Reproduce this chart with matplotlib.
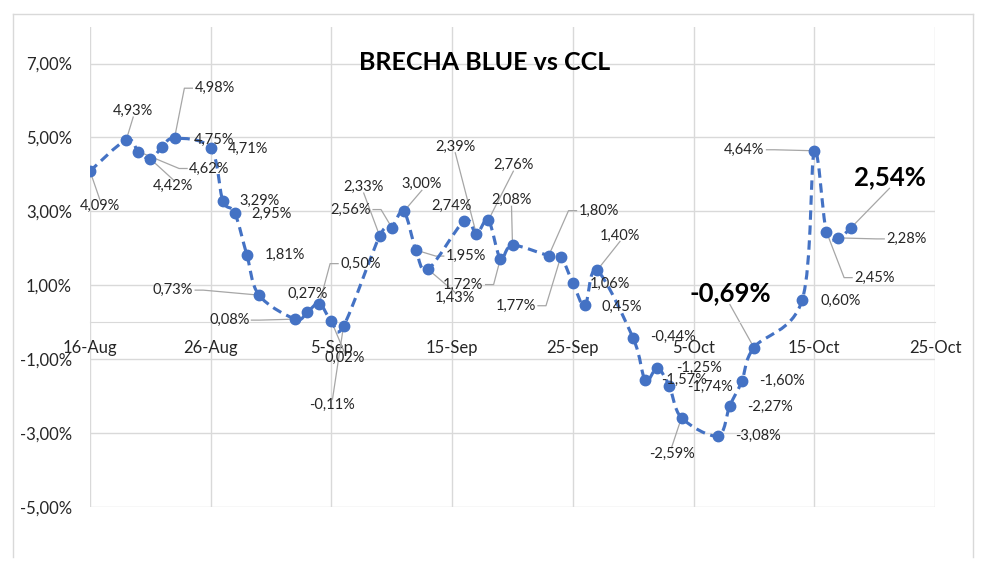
import numpy as np
import matplotlib
matplotlib.use('Agg')
import matplotlib.pyplot as plt
import matplotlib.dates as mdates
from matplotlib.path import Path
from matplotlib.patches import PathPatch
from matplotlib.lines import Line2D
from datetime import datetime

plt.rcParams['font.family'] = ['Lato', 'DejaVu Sans']

# datos: brecha blue vs CCL (%)
dates = ['2019-08-16', '2019-08-19', '2019-08-20', '2019-08-21', '2019-08-22', '2019-08-23',
         '2019-08-26', '2019-08-27', '2019-08-28', '2019-08-29', '2019-08-30',
         '2019-09-02', '2019-09-03', '2019-09-04', '2019-09-05', '2019-09-06',
         '2019-09-09', '2019-09-10', '2019-09-11', '2019-09-12', '2019-09-13',
         '2019-09-16', '2019-09-17', '2019-09-18', '2019-09-19', '2019-09-20',
         '2019-09-23', '2019-09-24', '2019-09-25', '2019-09-26', '2019-09-27',
         '2019-09-30', '2019-10-01', '2019-10-02', '2019-10-03', '2019-10-04',
         '2019-10-07', '2019-10-08', '2019-10-09', '2019-10-10',
         '2019-10-14', '2019-10-15', '2019-10-16', '2019-10-17', '2019-10-18']
values = [4.09, 4.93, 4.62, 4.42, 4.75, 4.98,
          4.71, 3.29, 2.95, 1.81, 0.73,
          0.08, 0.27, 0.50, 0.02, -0.11,
          2.33, 2.56, 3.00, 1.95, 1.43,
          2.74, 2.39, 2.76, 1.72, 2.08,
          1.80, 1.77, 1.06, 0.45, 1.40,
          -0.44, -1.57, -1.25, -1.74, -2.59,
          -3.08, -2.27, -1.60, -0.69,
          0.60, 4.64, 2.45, 2.28, 2.54]

xtick_dates = ['2019-08-16', '2019-08-26', '2019-09-05', '2019-09-15',
               '2019-09-25', '2019-10-05', '2019-10-15', '2019-10-25']
xtick_labels = ['16-Aug', '26-Aug', '5-Sep', '15-Sep', '25-Sep', '5-Oct', '15-Oct', '25-Oct']
yticks = [-5, -3, -1, 1, 3, 5, 7]

# posicion de etiquetas (px respecto al punto, y hacia abajo) y lado del conector
label_off = [(10, 35), (7, -29), (71, 17), (23, 27), (52, -7), (40, -50),
             (37, 1), (37, 0), (37, 1), (38, 0), (-86, -5),
             (-66, 1), (0, -18), (41, -40), (13, 37), (-11, 79),
             (-16, -49), (-41, -18), (18, -27), (50, 6), (27, 29),
             (-13, -15), (-21, -87), (25, -55), (-37, 26), (-1, -45),
             (50, -45), (-45, 49), (37, 1), (37, 1), (23, -35),
             (40, -1), (39, 0), (42, 0), (41, 1), (-10, 36),
             (40, 0), (40, 1), (40, 0), (-24, -54),
             (38, 1), (-70, -1), (48, 46), (68, 1), (39, -51)]
leader = ['t', 'b', 'l', 't', None, 'l',
          None, None, None, None, 'r',
          'r', None, 'l', 't', 't',
          'b', 'r', 'b', 'l', 't',
          None, 'b', 'b', 'r', 'b',
          'l', 'r', None, None, 'b',
          None, None, None, None, 't',
          None, None, None, 'b',
          None, 'r', 'l', 'l', 'b']
bold_idx = [39, 44]

blue = '#4472C4'
grid_c = '#d9d9d9'
txt_c = '#262626'

x = mdates.date2num([datetime.strptime(d, '%Y-%m-%d') for d in dates])
xt = mdates.date2num([datetime.strptime(d, '%Y-%m-%d') for d in xtick_dates])

fig = plt.figure(figsize=(9.81, 5.66), dpi=100)
ax = fig.add_axes([90 / 981, 59.3 / 566, 845 / 981, 480 / 566])
ax.set_xlim(xt[0], xt[-1])
ax.set_ylim(-5, 8)

ax.set_xticks(xt)
ax.set_xticklabels(xtick_labels)
ax.set_yticks(yticks)
ax.set_yticklabels([f'{v:.2f}%'.replace('.', ',') for v in yticks])
ax.tick_params(axis='both', length=0, labelsize=12, labelcolor=txt_c)
ax.tick_params(axis='x', pad=13)
ax.tick_params(axis='y', pad=13)
ax.grid(True, color=grid_c, linewidth=1)
ax.set_axisbelow(True)
for s in ['top', 'right', 'left']:
    ax.spines[s].set_visible(False)
ax.spines['bottom'].set_position(('data', 0))
ax.spines['bottom'].set_color(grid_c)

# linea suavizada (bezier tipo Excel)
pts = np.column_stack([x, values])
verts = [pts[0]]
codes = [Path.MOVETO]
n = len(pts)
for i in range(n - 1):
    p0 = pts[i - 1] if i > 0 else pts[i]
    p1 = pts[i]
    p2 = pts[i + 1]
    p3 = pts[i + 2] if i + 2 < n else pts[i + 1]
    verts += [p1 + (p2 - p0) / 6, p2 - (p3 - p1) / 6, p2]
    codes += [Path.CURVE4] * 3
patch = PathPatch(Path(verts, codes), fill=False, edgecolor=blue, linewidth=2.25,
                  linestyle=(0, (3, 1.8)), zorder=3)
ax.add_patch(patch)
ax.plot(x, values, 'o', ms=7.5, color=blue, zorder=4)

fig.text(485 / 981, 1 - 62.5 / 566, 'BRECHA BLUE vs CCL', fontsize=18, fontweight='bold',
         ha='center', va='center', color='black')

# etiquetas de datos
to_data = ax.transData.inverted()
texts = []
for i, (xi, v) in enumerate(zip(x, values)):
    px, py = ax.transData.transform((xi, v))
    dx, dy = label_off[i]
    lx, ly = to_data.transform((px + dx, py - dy))
    s = f'{v:.2f}%'.replace('.', ',')
    if i in bold_idx:
        t = ax.text(lx, ly, s, fontsize=18.5, fontweight='bold', color='black',
                    ha='center', va='center', zorder=5)
    else:
        t = ax.text(lx, ly, s, fontsize=10.5, color=txt_c, ha='center', va='center', zorder=5)
    texts.append(t)

fig.canvas.draw()
r = fig.canvas.get_renderer()
for i, (xi, v) in enumerate(zip(x, values)):
    side = leader[i]
    if side is None:
        continue
    bb = texts[i].get_window_extent(r)
    px, py = ax.transData.transform((xi, v))
    yc = (bb.y0 + bb.y1) / 2
    xc = (bb.x0 + bb.x1) / 2
    if side == 'l':
        path = [(px, py), (bb.x0 - 10, yc), (bb.x0 - 2, yc)]
    elif side == 'r':
        path = [(px, py), (bb.x1 + 10, yc), (bb.x1 + 2, yc)]
    elif side == 't':
        path = [(px, py), (xc, bb.y1 - 1)]
    else:
        path = [(px, py), (xc, bb.y0 + 1)]
    dp = to_data.transform(path)
    ax.plot(dp[:, 0], dp[:, 1], color='#a6a6a6', linewidth=0.9, zorder=2)

# borde del grafico
for (x0, y0, x1, y1) in [(12.7, 557, 12.7, 14), (12.7, 14, 972.7, 14), (972.7, 14, 972.7, 557)]:
    fig.add_artist(Line2D([x0 / 981, x1 / 981], [1 - y0 / 566, 1 - y1 / 566],
                          color=grid_c, linewidth=1, transform=fig.transFigure))

fig.savefig('out.png', dpi=100)
